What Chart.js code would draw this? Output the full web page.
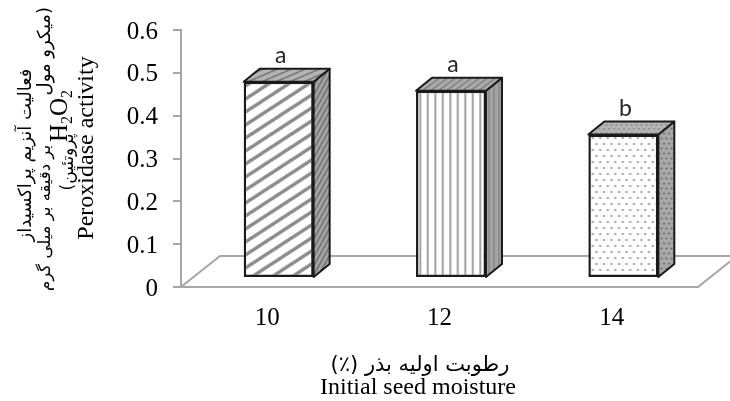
<!DOCTYPE html>
<html>
<head>
<meta charset="utf-8">
<script src="https://cdn.jsdelivr.net/npm/chart.js@4.4.1/dist/chart.umd.min.js"></script>
<style>
  html, body { margin: 0; padding: 0; background: #fff; }
</style>
</head>
<body>
<canvas id="chart" width="730" height="401"></canvas>
<script>
// data
const moisture = ['10', '12', '14'];
const peroxidase = [0.458, 0.437, 0.335];
const letters = ['a', 'a', 'b'];
const yMax = 0.6, yStep = 0.1;

// 3d look
const depth = { dx: 16, dy: -13 };      // bar depth
const shift = { dx: 11.5, dy: -9 };     // bars sit a bit behind the front edge
const floorDepth = { dx: 39, dy: -31 };
const gridGray = '#a6a6a6';
const edge = '#1a1a1a';

const canvas = document.getElementById('chart');
const ctx0 = canvas.getContext('2d');

function tile(w, h, draw) {
  const c = document.createElement('canvas');
  c.width = w; c.height = h;
  draw(c.getContext('2d'), w, h);
  return ctx0.createPattern(c, 'repeat');
}
// stripes going up to the right
function diag(bg, fg, w, h, lw) {
  return tile(w, h, (g) => {
    g.fillStyle = bg; g.fillRect(0, 0, w, h);
    g.strokeStyle = fg; g.lineWidth = lw;
    for (const k of [-1, 0, 1]) {
      g.beginPath();
      g.moveTo(k * w - w, 2 * h);
      g.lineTo((k + 1) * w + w, -h);
      g.stroke();
    }
  });
}
function vlines(bg, fg, w, lw) {
  return tile(w * 2, 4, (g) => {
    g.fillStyle = bg; g.fillRect(0, 0, w * 2, 4);
    g.fillStyle = fg;
    g.fillRect(w / 2 - lw / 2, 0, lw, 4);
    g.fillRect(w * 1.5 - lw / 2, 0, lw, 4);
  });
}
function dots(bg, fg, w, h, r) {
  return tile(w, h, (g) => {
    g.fillStyle = bg; g.fillRect(0, 0, w, h);
    g.fillStyle = fg;
    const pts = [[w / 4, h / 4], [w * 3 / 4, h / 4], [0, h * 3 / 4], [w / 2, h * 3 / 4], [w, h * 3 / 4]];
    pts.forEach(([x, y]) => { g.beginPath(); g.arc(x, y, r, 0, Math.PI * 2); g.fill(); });
  });
}

const frontPats = [
  diag('#ffffff', '#8c8c8c', 20, 13, 3.5),
  vlines('#ffffff', '#8a8a8a', 7.5, 1.6),
  dots('#ffffff', '#8a8a8a', 15, 12, 1.1)
];
const sidePats = [
  diag('#a8a8a8', '#6a6a6a', 5, 9, 1.4),
  vlines('#a4a4a4', '#7c7c7c', 5, 1.2),
  dots('#a8a8a8', '#5e5e5e', 10, 10, 0.9)
];
const topPats = [
  diag('#b4b4b4', '#747474', 14, 6, 1.6),
  diag('#ababab', '#767676', 8, 6, 1.2),
  dots('#b4b4b4', '#6a6a6a', 10, 8, 0.8)
];

const bar3d = {
  id: 'bar3d',
  beforeDraw(chart) {
    const { ctx } = chart;
    ctx.save();
    ctx.fillStyle = '#fff';
    ctx.fillRect(0, 0, chart.width, chart.height);
    ctx.restore();
  },
  beforeDatasetsDraw(chart) {
    const { ctx, chartArea: a } = chart;
    // floor
    ctx.save();
    ctx.strokeStyle = gridGray;
    ctx.lineWidth = 2;
    ctx.beginPath();
    ctx.moveTo(a.left, a.bottom);
    ctx.lineTo(a.right, a.bottom);
    ctx.lineTo(a.right + floorDepth.dx, a.bottom + floorDepth.dy);
    ctx.lineTo(a.left + floorDepth.dx, a.bottom + floorDepth.dy);
    ctx.closePath();
    ctx.stroke();
    ctx.restore();

    ctx.save();
    ctx.translate(shift.dx, shift.dy);
    ctx.lineWidth = 2;
    ctx.lineJoin = 'round';
    ctx.strokeStyle = edge;
    chart.getDatasetMeta(0).data.forEach((bar, i) => {
      const { x, y, base, width } = bar.getProps(['x', 'y', 'base', 'width'], true);
      const l = x - width / 2, r = x + width / 2;
      // side
      ctx.beginPath();
      ctx.moveTo(r, y);
      ctx.lineTo(r + depth.dx, y + depth.dy);
      ctx.lineTo(r + depth.dx, base + depth.dy);
      ctx.lineTo(r, base);
      ctx.closePath();
      ctx.fillStyle = sidePats[i];
      ctx.fill();
      ctx.stroke();
      // top
      ctx.beginPath();
      ctx.moveTo(l, y);
      ctx.lineTo(l + depth.dx, y + depth.dy);
      ctx.lineTo(r + depth.dx, y + depth.dy);
      ctx.lineTo(r, y);
      ctx.closePath();
      ctx.fillStyle = topPats[i];
      ctx.fill();
      ctx.stroke();
    });
  },
  afterDatasetsDraw(chart) {
    const { ctx } = chart;
    ctx.fillStyle = '#262626';
    ctx.font = '23px Lato, "DejaVu Sans", sans-serif';
    ctx.textAlign = 'center';
    ctx.textBaseline = 'alphabetic';
    chart.getDatasetMeta(0).data.forEach((bar, i) => {
      const { x, y } = bar.getProps(['x', 'y'], true);
      ctx.fillText(letters[i], x + 2, y + depth.dy - 6);
    });
    ctx.restore();
  },
  afterDraw(chart) {
    const { ctx } = chart;
    const fa = '"DejaVu Sans", sans-serif';
    const serif = '"Liberation Serif", "Times New Roman", serif';

    // x title
    ctx.save();
    ctx.fillStyle = '#000';
    ctx.textAlign = 'center';
    ctx.textBaseline = 'alphabetic';
    ctx.direction = 'rtl';
    ctx.font = '21px ' + fa;
    ctx.fillText('رطوبت اولیه بذر (٪)', 420, 371);
    ctx.direction = 'ltr';
    ctx.font = '24px ' + serif;
    ctx.fillText('Initial seed moisture', 418, 394);
    ctx.restore();

    // y title, rotated
    const rot = (text, x, y, align, font, dir) => {
      ctx.save();
      ctx.translate(x, y);
      ctx.rotate(-Math.PI / 2);
      ctx.font = font;
      ctx.direction = dir;
      ctx.textAlign = align;
      ctx.textBaseline = 'alphabetic';
      ctx.fillStyle = '#000';
      ctx.fillText(text, 0, 0);
      ctx.restore();
    };
    rot('فعالیت آنزیم پراکسیداز', 31, 155, 'center', '18px ' + fa, 'rtl');
    rot('(میکرو مول', 50, 7, 'right', '18px ' + fa, 'rtl');
    rot('بر دقیقه بر میلی گرم', 50, 291, 'left', '16.5px ' + fa, 'rtl');
    rot('پروتئین)', 73, 162, 'center', '17px ' + fa, 'rtl');
    rot('Peroxidase activity', 93, 148, 'center', '24px ' + serif, 'ltr');

    // H2O2 with real subscripts
    ctx.save();
    ctx.translate(67, 142);
    ctx.rotate(-Math.PI / 2);
    ctx.fillStyle = '#000';
    ctx.textAlign = 'left';
    ctx.textBaseline = 'alphabetic';
    let cx = 0;
    [['H', false], ['2', true], ['O', false], ['2', true]].forEach(([s, sub]) => {
      ctx.font = (sub ? '16px ' : '25px ') + serif;
      ctx.fillText(s, cx, sub ? 5 : 0);
      cx += ctx.measureText(s).width;
    });
    ctx.restore();
  }
};

const yTickValues = [];
for (let v = 0; v <= yMax + 1e-9; v += yStep) yTickValues.push(Math.round(v * 10) / 10);

new Chart(canvas, {
  type: 'bar',
  data: {
    labels: moisture,
    datasets: [{
      data: peroxidase,
      backgroundColor: frontPats,
      borderColor: edge,
      borderWidth: 2.5,
      borderSkipped: false,
      barPercentage: 0.406,
      categoryPercentage: 1,
      clip: false
    }]
  },
  options: {
    responsive: false,
    animation: false,
    devicePixelRatio: 1,
    layout: { padding: { top: 30, right: 32, left: 0, bottom: 0 } },
    plugins: { legend: { display: false }, tooltip: { enabled: false } },
    scales: {
      x: {
        grid: { display: false, drawTicks: false },
        border: { display: false },
        ticks: { color: '#000', padding: 16, font: { family: '"Liberation Serif", serif', size: 25 } },
        afterFit: (s) => { s.height = 114; }
      },
      y: {
        min: 0,
        max: yMax,
        afterBuildTicks: (s) => { s.ticks = yTickValues.map((v) => ({ value: v })); },
        grid: { drawOnChartArea: false, drawTicks: true, tickLength: 8, color: gridGray, lineWidth: 2 },
        border: { color: gridGray, width: 2 },
        ticks: {
          color: '#000', padding: 15, labelOffset: 2,
          font: { family: '"Liberation Serif", serif', size: 25 },
          callback: (v) => String(v)
        },
        afterFit: (s) => { s.width = 181; }
      }
    }
  },
  plugins: [bar3d]
});
</script>
</body>
</html>
